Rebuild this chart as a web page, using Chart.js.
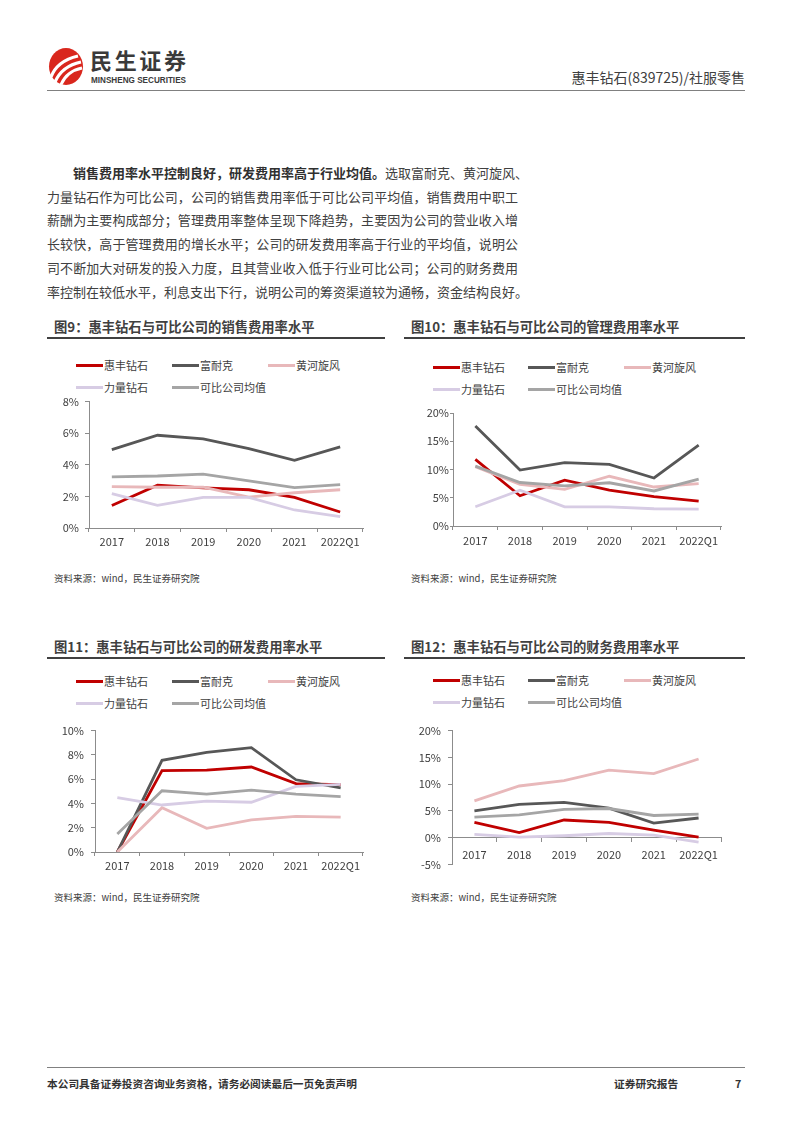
<!DOCTYPE html>
<html>
<head>
<meta charset="utf-8">
<script src="https://cdn.jsdelivr.net/npm/chart.js@4.4.0/dist/chart.umd.min.js"></script>
<style>
body { margin: 0; background: #fff; font-family: "Noto Sans CJK SC", sans-serif; color: #404040; }
#page { position: relative; width: 793px; height: 1122px; overflow: hidden; background: #fff; }
.abs { position: absolute; }
.hline { position: absolute; height: 0; }
.body-line { position: absolute; left: 47px; width: 471px; height: 24px; line-height: 24px; font-size: 13px;
  text-align: justify; text-align-last: justify; white-space: nowrap; color: #404040; }
.body-line b { color: #303030; }
.fig-title { position: absolute; font-size: 13.3px; font-weight: bold; line-height: 16px; color: #404040; white-space: nowrap; }
.source { position: absolute; font-size: 9.5px; line-height: 12px; color: #404040; white-space: nowrap; }
.lg-line { position: absolute; width: 27px; height: 3px; }
.lg-text { position: absolute; font-size: 11px; line-height: 14px; color: #404040; white-space: nowrap; }
canvas { position: absolute; }
</style>
</head>
<body>
<div id="page">
  <!-- header -->
  <svg class="abs" style="left:0;top:0" width="793" height="100">
    <ellipse cx="66" cy="66.5" rx="17" ry="18.5" fill="#d9271d"/>
    <path d="M51,77 Q57,61 78,56" stroke="#fff" stroke-width="3.2" fill="none"/>
    <path d="M55,82 Q62,66 81,62" stroke="#fff" stroke-width="3.2" fill="none"/>
    <path d="M61,84.5 Q67,71 82,68" stroke="#fff" stroke-width="3" fill="none"/>
    <text x="90" y="68.5" font-size="22" font-weight="bold" fill="#3a3a3a" textLength="96" lengthAdjust="spacing"
      font-family="Noto Sans CJK SC">民生证券</text>
    <text x="91" y="82.5" font-size="8.5" font-weight="bold" fill="#3a3a3a" textLength="95" lengthAdjust="spacingAndGlyphs"
      font-family="Liberation Sans">MINSHENG SECURITIES</text>
  </svg>
  <div class="abs" style="right:48px;top:68px;font-size:14px;line-height:18px;color:#404040;white-space:nowrap">惠丰钻石(839725)/社服零售</div>
  <div class="hline" style="left:47px;top:90px;width:698px;border-top:1.5px solid #808080"></div>

  <!-- body text -->
  <div class="body-line" style="top:161px;padding-left:26px;width:445px"><b>销售费用率水平控制良好，研发费用率高于行业均值。</b>选取富耐克、黄河旋风、</div>
  <div class="body-line" style="top:185px">力量钻石作为可比公司，公司的销售费用率低于可比公司平均值，销售费用中职工</div>
  <div class="body-line" style="top:208px">薪酬为主要构成部分；管理费用率整体呈现下降趋势，主要因为公司的营业收入增</div>
  <div class="body-line" style="top:232px">长较快，高于管理费用的增长水平；公司的研发费用率高于行业的平均值，说明公</div>
  <div class="body-line" style="top:256px">司不断加大对研发的投入力度，且其营业收入低于行业可比公司；公司的财务费用</div>
  <div class="body-line" style="top:280px">率控制在较低水平，利息支出下行，说明公司的筹资渠道较为通畅，资金结构良好。</div>

  <!-- figure titles -->
  <div class="fig-title" style="left:54px;top:319px">图9：惠丰钻石与可比公司的销售费用率水平</div>
  <div class="fig-title" style="left:411px;top:319px">图10：惠丰钻石与可比公司的管理费用率水平</div>
  <div class="hline" style="left:47px;top:336.5px;width:338px;border-top:2px solid #404040"></div>
  <div class="hline" style="left:404px;top:336.5px;width:341px;border-top:2px solid #404040"></div>

  <div class="fig-title" style="left:54px;top:639px">图11：惠丰钻石与可比公司的研发费用率水平</div>
  <div class="fig-title" style="left:411px;top:639px">图12：惠丰钻石与可比公司的财务费用率水平</div>
  <div class="hline" style="left:47px;top:656.5px;width:338px;border-top:2px solid #404040"></div>
  <div class="hline" style="left:404px;top:656.5px;width:341px;border-top:2px solid #404040"></div>

  <div id="legends"></div>

  <canvas id="c9" width="320" height="165" style="left:49px;top:389px"></canvas>
  <canvas id="c10" width="314" height="149" style="left:413px;top:403px"></canvas>
  <canvas id="c11" width="314" height="161" style="left:55px;top:717px"></canvas>
  <canvas id="c12" width="315" height="161" style="left:412px;top:717px"></canvas>

  <div class="source" style="left:54px;top:572px">资料来源：wind，民生证券研究院</div>
  <div class="source" style="left:411px;top:572px">资料来源：wind，民生证券研究院</div>
  <div class="source" style="left:54px;top:891px">资料来源：wind，民生证券研究院</div>
  <div class="source" style="left:411px;top:891px">资料来源：wind，民生证券研究院</div>

  <!-- footer -->
  <div class="hline" style="left:47px;top:1067px;width:698px;border-top:1.5px solid #808080"></div>
  <div class="abs" style="left:47px;top:1077px;font-size:10.7px;line-height:14px;font-weight:bold;color:#333;white-space:nowrap">本公司具备证券投资咨询业务资格，请务必阅读最后一页免责声明</div>
  <div class="abs" style="left:614px;top:1077px;font-size:10.7px;line-height:14px;font-weight:bold;color:#333;white-space:nowrap">证券研究报告</div>
  <div class="abs" style="left:735px;top:1077px;font-size:10.7px;line-height:14px;font-weight:bold;color:#333">7</div>
</div>

<script>
const years = ['2017', '2018', '2019', '2020', '2021', '2022Q1'];
const seriesNames = ['惠丰钻石', '富耐克', '黄河旋风', '力量钻石', '可比公司均值'];
const seriesColors = ['#C00000', '#575757', '#E8B8BA', '#D7CCE4', '#A5A5A5'];

// 图9 销售费用率 (%)
const salesHuifeng = [1.43, 2.71, 2.54, 2.42, 1.94, 1.01];
const salesFunaike = [4.96, 5.87, 5.64, 5.02, 4.28, 5.14];
const salesHuanghe = [2.62, 2.58, 2.58, 1.96, 2.23, 2.42];
const salesLiliang = [2.17, 1.43, 1.94, 1.94, 1.14, 0.72];
const salesAvg = [3.24, 3.29, 3.41, 2.98, 2.56, 2.75];
const salesTicks = [0, 2, 4, 6, 8];

// 图10 管理费用率 (%)
const adminHuifeng = [11.8, 5.35, 8.1, 6.35, 5.2, 4.4];
const adminFunaike = [17.7, 9.9, 11.2, 10.9, 8.5, 14.3];
const adminHuanghe = [10.5, 7.35, 6.5, 8.8, 6.9, 7.5];
const adminLiliang = [3.4, 6.35, 3.4, 3.4, 3.05, 3.0];
const adminAvg = [10.6, 7.7, 7.1, 7.65, 6.2, 8.3];
const adminTicks = [0, 5, 10, 15, 20];

// 图11 研发费用率 (%)
const rdHuifeng = [0, 6.7, 6.75, 7.0, 5.63, 5.55];
const rdFunaike = [0, 7.55, 8.2, 8.6, 5.95, 5.28];
const rdHuanghe = [0, 3.65, 1.95, 2.65, 2.93, 2.88];
const rdLiliang = [4.48, 3.87, 4.19, 4.1, 5.41, 5.57];
const rdAvg = [1.49, 5.04, 4.77, 5.09, 4.77, 4.56];
const rdTicks = [0, 2, 4, 6, 8, 10];

// 图12 财务费用率 (%)
const finHuifeng = [2.84, 0.95, 3.3, 2.84, 1.42, 0.1];
const finFunaike = [5.0, 6.2, 6.6, 5.5, 2.7, 3.67];
const finHuanghe = [6.86, 9.65, 10.65, 12.6, 11.95, 14.7];
const finLiliang = [0.6, 0.1, 0.35, 0.77, 0.47, -0.83];
const finAvg = [3.85, 4.26, 5.27, 5.44, 4.14, 4.38];
const finTicks = [-5, 0, 5, 10, 15, 20];

const fontFamily = '"Noto Sans CJK SC", sans-serif';
const axisColor = '#8c8c8c';
const labelColor = '#404040';

function makeChart(id, values, ticks, opt) {
    const ctx = document.getElementById(id).getContext('2d');
    return new Chart(ctx, {
        type: 'line',
        data: {
            labels: years,
            datasets: values.map((v, i) => ({
                label: seriesNames[i],
                data: v,
                borderColor: seriesColors[i],
                backgroundColor: seriesColors[i],
                borderWidth: 2.8,
                pointRadius: 0,
                pointHoverRadius: 0,
                fill: false,
                tension: 0,
                order: values.length - i
            }))
        },
        options: {
            responsive: false,
            animation: false,
            layout: { padding: { top: 10, right: 6, bottom: opt.bottomPad || 0, left: 0 } },
            plugins: { legend: { display: false }, tooltip: { enabled: false } },
            scales: {
                x: {
                    position: opt.zeroAxis ? { y: 0 } : 'bottom',
                    offset: true,
                    grid: { display: true, offset: true, drawOnChartArea: false, drawTicks: true, tickLength: 4, color: axisColor },
                    border: { display: true, color: axisColor, width: 1 },
                    ticks: { color: labelColor, font: { size: 11, family: fontFamily }, padding: opt.xPad, maxRotation: 0, autoSkip: false },
                    afterFit: function (scale) { scale.height = 26; }
                },
                y: {
                    min: ticks[0],
                    max: ticks[ticks.length - 1],
                    grid: { display: true, drawOnChartArea: false, drawTicks: true, tickLength: opt.tickLen, color: axisColor },
                    border: { display: true, color: axisColor, width: 1 },
                    ticks: {
                        stepSize: ticks[1] - ticks[0],
                        padding: opt.yPad,
                        color: labelColor,
                        font: { size: 11, family: fontFamily },
                        callback: function (value) { return value + '%'; }
                    },
                    afterFit: function (scale) { scale.width = 40; }
                }
            }
        }
    });
}

// legend built from the series names / colours
function makeLegend(cols, rows) {
    const box = document.getElementById('legends');
    seriesNames.forEach((name, i) => {
        const x = cols[i % 3];
        const y = rows[Math.floor(i / 3)];
        const ln = document.createElement('div');
        ln.className = 'lg-line';
        ln.style.left = x + 'px';
        ln.style.top = (y - 1.5) + 'px';
        ln.style.background = seriesColors[i];
        box.appendChild(ln);
        const tx = document.createElement('div');
        tx.className = 'lg-text';
        tx.style.left = (x + 28) + 'px';
        tx.style.top = (y - 7.5) + 'px';
        tx.textContent = name;
        box.appendChild(tx);
    });
}

makeLegend([76, 172, 268], [365, 387]);
makeLegend([433, 528, 624], [367, 389]);
makeLegend([76, 172, 268], [681, 703]);
makeLegend([433, 528, 624], [680, 702]);

makeChart('c9', [salesHuifeng, salesFunaike, salesHuanghe, salesLiliang, salesAvg], salesTicks,
    { tickLen: 4, yPad: 6, xPad: 3 });
makeChart('c10', [adminHuifeng, adminFunaike, adminHuanghe, adminLiliang, adminAvg], adminTicks,
    { tickLen: 3, yPad: 1, xPad: 4 });
makeChart('c11', [rdHuifeng, rdFunaike, rdHuanghe, rdLiliang, rdAvg], rdTicks,
    { tickLen: 4, yPad: 7, xPad: 3 });
makeChart('c12', [finHuifeng, finFunaike, finHuanghe, finLiliang, finAvg], finTicks,
    { tickLen: 4, yPad: 7, xPad: 7, zeroAxis: true, bottomPad: 10 });
</script>
</body>
</html>
